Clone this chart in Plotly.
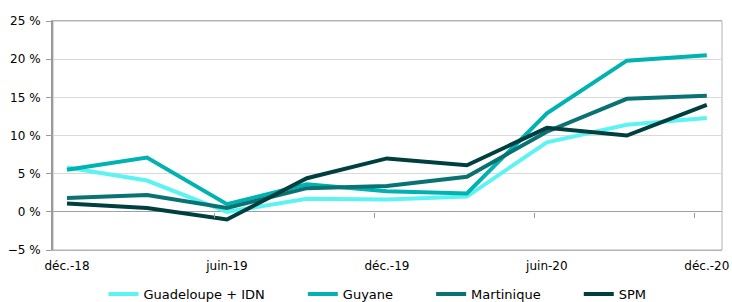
import plotly.graph_objects as go

periods = ["déc.-18", "mars-19", "juin-19", "sept-19", "déc.-19", "mars-20", "juin-20", "sept-20", "déc.-20"]
tick_labels = ["déc.-18", "juin-19", "déc.-19", "juin-20", "déc.-20"]
guadeloupe = [5.8, 4.1, 0.0, 1.7, 1.6, 2.0, 9.1, 11.4, 12.3]
guyane = [5.5, 7.1, 1.0, 3.6, 2.7, 2.4, 12.9, 19.8, 20.5]
martinique = [1.8, 2.2, 0.5, 3.1, 3.4, 4.6, 10.5, 14.8, 15.2]
spm = [1.1, 0.5, -1.0, 4.4, 7.0, 6.1, 11.0, 10.0, 14.0]

names = ["Guadeloupe + IDN", "Guyane", "Martinique", "SPM"]
colors = ["#5ef3f3", "#00b2b2", "#0a7272", "#003f3f"]
series = [guadeloupe, guyane, martinique, spm]

pad = "\u00a0" * 8
x = list(range(len(periods)))
fig = go.Figure()
for i, (n, c, s) in enumerate(zip(names, colors, series)):
    label = n + (pad if i < len(names) - 1 else "")
    fig.add_trace(go.Scatter(x=x, y=s, name=label, mode="lines",
                             line=dict(color=c, width=4), text=periods,
                             hovertemplate="%{text}: %{y} %<extra>" + n + "</extra>"))

# invisible trace to hold the tick-mark axis crossing at zero
fig.add_trace(go.Scatter(x=[0], y=[0], xaxis="x2", mode="markers",
                         marker=dict(opacity=0), showlegend=False, hoverinfo="skip"))

xr = [-0.175, 8.19]
fig.update_layout(
    width=732, height=302,
    margin=dict(l=53, r=10, t=21, b=52, autoexpand=False),
    paper_bgcolor="white", plot_bgcolor="white",
    font=dict(family="DejaVu Sans, Verdana, sans-serif", size=12, color="#000"),
    xaxis=dict(range=xr, tickvals=[0, 2, 4, 6, 8], ticktext=tick_labels,
               showgrid=False, zeroline=False, ticks="", ticklabelstandoff=5,
               showline=True, linecolor="#b3b3b3", linewidth=1, mirror=True,
               automargin=False),
    xaxis2=dict(range=xr, overlaying="x", anchor="free", position=1/6,
                tickvals=[1.85, 3.85, 5.85, 7.85], showticklabels=False,
                ticks="outside", ticklen=5, tickcolor="#999999", tickwidth=1,
                showgrid=False, zeroline=False, showline=False, automargin=False),
    yaxis=dict(range=[-5, 25], dtick=5, tick0=-5, ticksuffix=" %",
               showgrid=True, gridcolor="#d9d9d9", gridwidth=1,
               zeroline=True, zerolinecolor="#a0a0a0", zerolinewidth=1,
               showline=True, linecolor="#9a9a9a", linewidth=2,
               ticks="outside", ticklen=5, tickcolor="#9a9a9a", ticklabelstandoff=3,
               automargin=False),
    legend=dict(orientation="h", x=0.485, xanchor="center", y=-0.192, yanchor="middle",
                font=dict(size=13), itemwidth=30, tracegroupgap=0),
    showlegend=True,
    shapes=[dict(type="rect", xref="paper", yref="paper", x0=0, x1=1, y0=0, y1=1,
                 line=dict(color="#b3b3b3", width=1), layer="below")],
)

fig.write_html("out.html", config={"displayModeBar": False},
               post_script="document.body.style.margin='0';document.body.style.overflow='hidden';")
